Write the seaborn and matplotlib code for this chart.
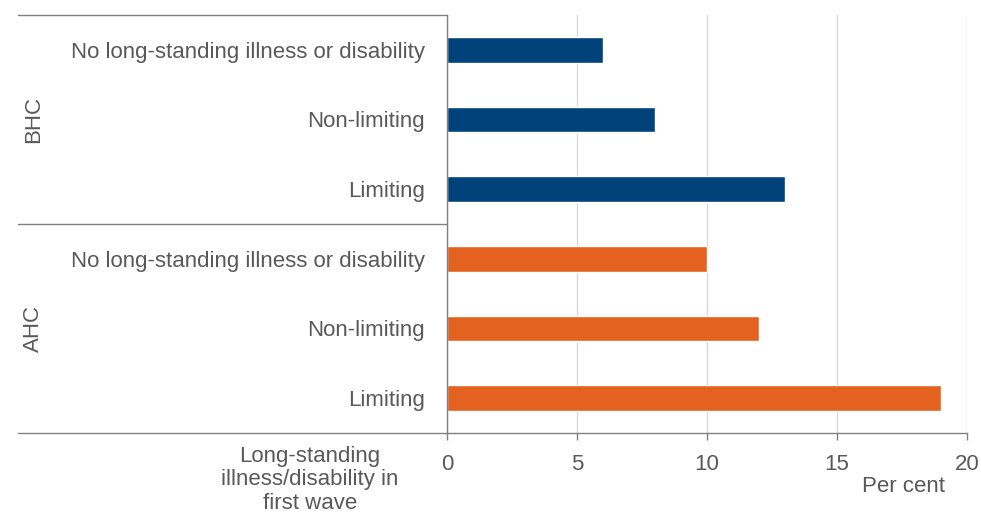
import pandas as pd
import matplotlib.pyplot as plt
import seaborn as sns

# data
groups = ["BHC", "BHC", "BHC", "AHC", "AHC", "AHC"]
categories = ["No long-standing illness or disability", "Non-limiting", "Limiting",
              "No long-standing illness or disability", "Non-limiting", "Limiting"]
values = [6, 8, 13, 10, 12, 19]
x_ticks = [0, 5, 10, 15, 20]

df = pd.DataFrame({"group": groups, "category": categories, "value": values})
df["key"] = df["group"] + " - " + df["category"]

sns.set_theme(style="white")
plt.rcParams["font.family"] = ["Liberation Sans", "DejaVu Sans"]
grey = "#595959"
line = "#808080"
fs = 16

fig = plt.figure(figsize=(9.81, 5.16), dpi=100)
ax = fig.add_axes([0.4557, 0.161, 0.530, 0.810])

sns.barplot(data=df, x="value", y="key", hue="group", palette={"BHC": "#00437A", "AHC": "#E3621F"},
            dodge=False, width=0.37, orient="h", legend=False, ax=ax, saturation=1)

ax.set_xlim(0, 20)
ax.set_ylim(5.5, -0.5)
ax.set_xticks(x_ticks)
ax.set_xticklabels([str(t) for t in x_ticks], fontsize=fs, color=grey)
ax.set_yticks(range(len(df)))
ax.set_yticklabels(df["category"], fontsize=fs, color=grey)
ax.tick_params(axis="y", length=0, pad=16)
ax.tick_params(axis="x", length=5, width=1, color=line, pad=10, bottom=True)
ax.set_xlabel("")
ax.set_ylabel("")
ax.grid(axis="x", color="#D9D9D9", linewidth=1)
ax.set_axisbelow(True)
for s in ["top", "right"]:
    ax.spines[s].set_visible(False)
for s in ["left", "bottom"]:
    ax.spines[s].set_color(line)
    ax.spines[s].set_linewidth(1)

# group separators and labels on the left
trans = ax.get_yaxis_transform()
x_left = (18 / 981 - 0.4557) / 0.530
for yy in [-0.5, 2.5, 5.5]:
    ax.plot([x_left, 0], [yy, yy], transform=trans, color=line, lw=1, clip_on=False)
for name, yc in [("BHC", 1), ("AHC", 4)]:
    ax.text(x_left + 0.03, yc, name, transform=trans, rotation=90, ha="center", va="center",
            fontsize=fs, color=grey)

fig.text(310 / 981, 1 - 446 / 516, "Long-standing\nillness/disability in\nfirst wave",
         ha="center", va="top", fontsize=fs, color=grey, linespacing=1.15)
fig.text(945 / 981, 1 - 486 / 516, "Per cent", ha="right", va="center", fontsize=fs, color=grey)

fig.savefig("out.png", dpi=100)
